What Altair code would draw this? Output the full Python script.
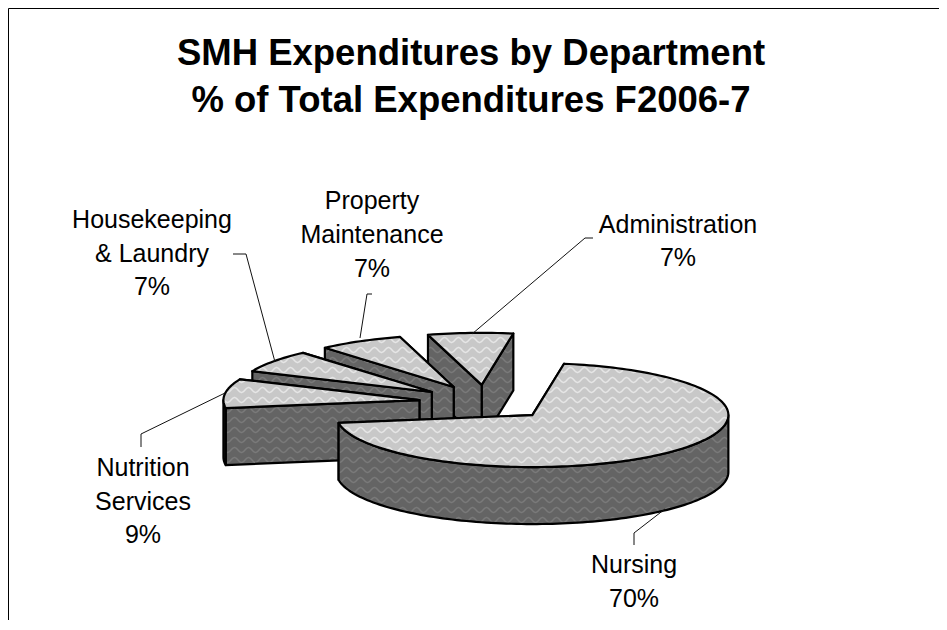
import math
import altair as alt
import pandas as pd

# ---- values
TITLE_LINES = ["SMH Expenditures by Department", "% of Total Expenditures F2006-7"]
CATEGORIES = ["Nursing", "Nutrition Services", "Housekeeping & Laundry", "Property Maintenance", "Administration"]
SHARES = [70, 9, 7, 7, 7]
LABEL_LINES = [["Nursing"], ["Nutrition", "Services"], ["Housekeeping", "& Laundry"], ["Property", "Maintenance"], ["Administration"]]

# ---- layout, in pixels of the page
OX, OY = 8, 8
W, H = 931, 612
CX, CY = 485.5, 402.5
RX, RY = 196.0, 52.0
EXPLODE = 0.34
DEPTH = 57.0
START = -80.7
LABEL_POS = [(634, 573, 34), (143, 476, 33.5), (152, 228, 33.5), (372, 209, 34), (678, 233, 33)]
LEADERS = [
    [(634, 545), (634, 533), (665, 509)],
    [(141, 447), (141, 434), (225, 393)],
    [(233, 254), (246, 254), (275, 362)],
    [(372, 294), (367, 294), (360, 338)],
    [(593, 238), (585, 238), (472, 334)],
]
TOP_FILL, TOP_WAVE = "#c8c8c8", "#e6e6e6"
SIDE_FILL, SIDE_WAVE = "#646464", "#7a7a7a"
WAVE_PERIOD, WAVE_ROW, WAVE_AMP = 14.0, 10.0, 2.5
OUTLINE = 2.2


def px(p):
    return [round(p[0] - OX, 2), round(p[1] - OY, 2)]


def inside(x, y, poly):
    c = False
    n = len(poly)
    for i in range(n):
        x1, y1 = poly[i]
        x2, y2 = poly[(i + 1) % n]
        if (y1 > y) != (y2 > y) and x < (x2 - x1) * (y - y1) / (y2 - y1) + x1:
            c = not c
    return c


def waves(poly):
    xs = [p[0] for p in poly]
    ys = [p[1] for p in poly]
    lines = []
    r0 = int(min(ys) // WAVE_ROW) - 1
    r1 = int(max(ys) // WAVE_ROW) + 2
    for r in range(r0, r1):
        cur = []
        x = float(int(min(xs)))
        while x <= max(xs) + 1:
            y = r * WAVE_ROW + WAVE_AMP * math.sin(2 * math.pi * x / WAVE_PERIOD)
            if inside(x, y, poly):
                cur.append((x, y))
            elif cur:
                if len(cur) > 1:
                    lines.append(cur)
                cur = []
            x += 1.0
        if len(cur) > 1:
            lines.append(cur)
    return lines


features = []


def feat(kind, coords, fill, stroke, sw):
    features.append({
        "type": "Feature",
        "geometry": {"type": kind, "coordinates": coords},
        "properties": {"fill": fill, "stroke": stroke, "sw": sw},
    })


def shape(poly, fill, wave):
    ring = [px(p) for p in poly] + [px(poly[0])]
    feat("Polygon", [ring], fill, "transparent", 0)
    w = waves(poly)
    if w:
        feat("MultiLineString", [[px(p) for p in l] for l in w], "transparent", wave, 1.5)
    feat("Polygon", [ring], "transparent", "#000000", OUTLINE)


def pt(c, deg):
    t = math.radians(deg)
    return (c[0] + RX * math.cos(t), c[1] + RY * math.sin(t))


def arc(c, a, b):
    n = max(2, int(abs(b - a) / 1.5))
    return [pt(c, a + (b - a) * i / n) for i in range(n + 1)]


# angles follow the shares, clockwise from START
angles = []
cur = START
for s in SHARES:
    angles.append((cur, cur + s * 3.6))
    cur += s * 3.6

for i in reversed(range(len(SHARES))):
    a, b = angles[i]
    mid = math.radians((a + b) / 2)
    c = (CX + EXPLODE * RX * math.cos(mid), CY + EXPLODE * RY * math.sin(mid))
    down = lambda p: (p[0], p[1] + DEPTH)
    # radial faces, far one first
    pe, ps = pt(c, b), pt(c, a)
    shape([c, pe, down(pe), down(c)], SIDE_FILL, SIDE_WAVE)
    shape([c, ps, down(ps), down(c)], SIDE_FILL, SIDE_WAVE)
    # visible part of the rim (front half of the ellipse)
    for lo, hi in [(0, 180), (360, 540)]:
        l, h = max(a, lo), min(b, hi)
        if h > l:
            rim = arc(c, l, h)
            shape(rim + [down(p) for p in reversed(rim)], SIDE_FILL, SIDE_WAVE)
    shape([c] + arc(c, a, b), TOP_FILL, TOP_WAVE)

for line in LEADERS:
    feat("LineString", [px(p) for p in line], "transparent", "#111111", 1.0)

# frame: top and left rules of the original picture
feat("LineString", [[0.5, H], [0.5, 0.5], [W, 0.5]], "transparent", "#000000", 1.0)

geo = alt.Chart(alt.Data(values=features)).mark_geoshape(strokeJoin="round", strokeCap="butt").encode(
    fill=alt.Fill("properties.fill:N", scale=None),
    stroke=alt.Stroke("properties.stroke:N", scale=None),
    strokeWidth=alt.StrokeWidth("properties.sw:Q", scale=None),
).project(type="identity", scale=1, translate=[0, 0])

rows = []
for name, share, lines, (x, y, gap) in zip(CATEGORIES, SHARES, LABEL_LINES, LABEL_POS):
    for k, t in enumerate(lines + [f"{share}%"]):
        rows.append({"x": x - OX, "y": y + k * gap - OY, "t": t})
labels = pd.DataFrame(rows)

titles = pd.DataFrame([
    {"x": 471 - OX, "y": 65 - OY, "t": TITLE_LINES[0]},
    {"x": 471 - OX, "y": 112 - OY, "t": TITLE_LINES[1]},
])

xs = alt.Scale(domain=[0, W], range=[0, W])
ys = alt.Scale(domain=[0, H], range=[0, H])

lab = alt.Chart(labels).mark_text(font="Liberation Sans", fontSize=25, align="center", baseline="alphabetic", color="#000000").encode(
    x=alt.X("x:Q", scale=xs, axis=None), y=alt.Y("y:Q", scale=ys, axis=None), text="t:N")
tit = alt.Chart(titles).mark_text(font="Liberation Sans", fontSize=36.5, fontWeight="bold", align="center", baseline="alphabetic", color="#000000").encode(
    x=alt.X("x:Q", scale=xs, axis=None), y=alt.Y("y:Q", scale=ys, axis=None), text="t:N")

chart = alt.layer(geo, lab, tit).resolve_scale(x="shared", y="shared").properties(
    width=W, height=H, padding=0, autosize=alt.AutoSizeParams(type="none"), background="white"
).configure_view(stroke=None)

chart.save("out.html", embed_options={"renderer": "svg", "actions": False})
